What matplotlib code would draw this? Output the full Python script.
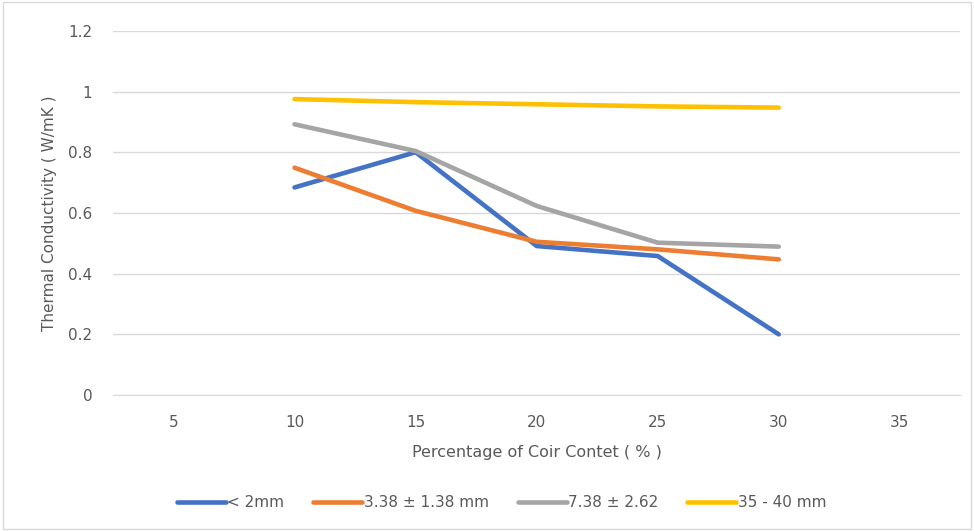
import matplotlib

matplotlib.use("Agg")

import matplotlib.pyplot as plt  # noqa: E402

# Chart data
categories = ["5", "10", "15", "20", "25", "30", "35"]
series_x = [1, 2, 3, 4, 5]  # indices of 10..30 within categories
series_labels = ["< 2mm", "3.38 ± 1.38 mm", "7.38 ± 2.62", "35 - 40 mm"]
fine = [0.684, 0.80, 0.491, 0.458, 0.20]
medium = [0.749, 0.607, 0.505, 0.48, 0.447]
coarse = [0.892, 0.804, 0.623, 0.502, 0.489]
longest = [0.975, 0.965, 0.958, 0.951, 0.947]
y_ticks = [0, 0.2, 0.4, 0.6, 0.8, 1.0, 1.2]
y_tick_labels = ["0", "0.2", "0.4", "0.6", "0.8", "1", "1.2"]

colors = ["#4472C4", "#ED7D31", "#A5A5A5", "#FFC000"]
text_color = "#595959"

plt.rcParams["font.family"] = ["DejaVu Sans"]

fig = plt.figure(figsize=(9.74, 5.31), dpi=100)
ax = fig.add_axes([0.116, 0.256, 0.870, 0.686])

for values, label, color in zip([fine, medium, coarse, longest], series_labels, colors):
    ax.plot(series_x, values, color=color, linewidth=3.3, label=label,
            solid_joinstyle="round", solid_capstyle="round")

ax.set_xlim(-0.5, len(categories) - 0.5)
ax.set_ylim(0, 1.2)
ax.set_xticks(range(len(categories)))
ax.set_xticklabels(categories)
ax.set_yticks(y_ticks)
ax.set_yticklabels(y_tick_labels)
ax.tick_params(length=0, labelsize=11, colors=text_color, pad=14)
ax.tick_params(axis="y", pad=15)
ax.grid(axis="y", color="#D9D9D9", linewidth=1)
ax.set_axisbelow(True)
for side in ["top", "right", "left"]:
    ax.spines[side].set_visible(False)
ax.spines["bottom"].set_color("#D9D9D9")

ax.set_xlabel("Percentage of Coir Contet ( % )", fontsize=11.5, color=text_color, labelpad=11)
ax.set_ylabel("Thermal Conductivity ( W/mK )", fontsize=11, color=text_color, labelpad=8)

fig.legend(loc="center", bbox_to_anchor=(0.515, 0.053), ncol=4, frameon=False,
           fontsize=11, labelcolor=text_color, handlelength=3.2,
           handletextpad=0.1, columnspacing=1.9)

fig.patches.append(plt.Rectangle((0.003, 0.004), 0.994, 0.992, transform=fig.transFigure,
                                 fill=False, edgecolor="#D9D9D9", linewidth=1))

fig.savefig("out.png", dpi=100)
